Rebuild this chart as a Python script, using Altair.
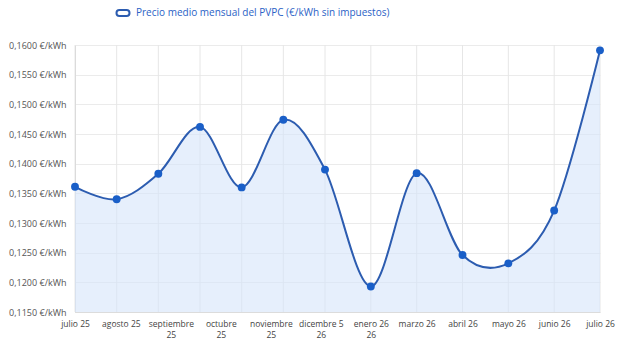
import json
import altair as alt
import pandas as pd

# Monthly average PVPC price, July 2025 - July 2026
meses = ["julio 25", "agosto 25", "septiembre 25", "octubre 25", "noviembre 25",
         "diciembre 25", "enero 26", "febrero 26", "marzo 26", "abril 26",
         "mayo 26", "junio 26", "julio 26"]
precio = [0.1361, 0.1340, 0.1383, 0.1462, 0.1360, 0.1474, 0.1390,
          0.1193, 0.1384, 0.1246, 0.1232, 0.1321, 0.1591]
serie = "Precio medio mensual del PVPC (€/kWh sin impuestos)"

# Axis labels as printed under the chart
etiquetas_x = ["julio 25", "agosto 25", "septiembre\n25", "octubre\n25",
               "noviembre\n25", "dicembre 5\n26", "enero 26\n26", "marzo 26",
               "abril 26", "mayo 26", "junio 26", "julio 26"]
ticks_y = [0.115, 0.120, 0.125, 0.130, 0.135, 0.140, 0.145, 0.150, 0.155, 0.160]

df = pd.DataFrame({
    "idx": list(range(len(meses))),
    "mes": meses,
    "precio": precio,
    "serie": [serie] * len(meses),
})

FONT = "Open Sans"
W, H = 525, 267

pos_x = [0, 1.1, 2.3, 3.5, 4.7, 5.9, 7, 8, 9, 10, 11, 12]
x_label_expr = "split({labs}[indexof({vals}, datum.value)], '|')".format(
    labs=json.dumps([e.replace("\n", "|") for e in etiquetas_x], ensure_ascii=False),
    vals=json.dumps(pos_x),
)

x_enc = alt.X(
    "idx:Q",
    scale=alt.Scale(domain=[0, 6, 12], range=[0, 250, W], nice=False, zero=False),
    axis=alt.Axis(
        values=pos_x, tickCount=30, labelExpr=x_label_expr, grid=False, ticks=False,
        domainColor="#dcdcdc", labelFont=FONT, labelFontSize=8.5,
        labelColor="#444444", labelPadding=7, labelLineHeight=11,
        labelBaseline="top", labelFlush=False, labelOverlap=False, title=None,
    ),
)
y_enc = alt.Y(
    "precio:Q",
    scale=alt.Scale(domain=[0.115, 0.160], nice=False, zero=False),
    axis=alt.Axis(
        values=ticks_y, tickCount=30,
        labelExpr="replace(format(datum.value, '.4f'), '.', ',') + ' €/kWh'",
        grid=True, gridColor="#ebebeb", ticks=False, domainColor="#d0d0d0",
        labelFont=FONT, labelFontSize=9, labelColor="#555555",
        labelPadding=9, labelOverlap=False, labelFlush=False, title=None,
    ),
)

base = alt.Chart(df)

grid_v = base.mark_rule(color="#e6e6e6", strokeWidth=1).encode(
    x=x_enc, y=alt.datum(0.160), y2=alt.datum(0.115)
)

area = base.mark_area(interpolate="cardinal", color="#d5e5fa", opacity=0.6).encode(
    x=x_enc, y=y_enc, y2=alt.datum(0.115)
)

pill = ("M -0.55,-0.45 L 0.55,-0.45 A 0.45,0.45 0 0 1 0.55,0.45 "
        "L -0.55,0.45 A 0.45,0.45 0 0 1 -0.55,-0.45 Z")

line = base.mark_line(interpolate="cardinal", strokeWidth=2).encode(
    x=x_enc, y=y_enc,
    color=alt.Color(
        "serie:N",
        scale=alt.Scale(range=["#2c5cb0"]),
        legend=alt.Legend(
            title=None, orient="none", legendX=40, legendY=-40,
            symbolType=pill, symbolSize=170, symbolFillColor="white",
            symbolStrokeColor="#2a62c6", symbolStrokeWidth=2,
            labelFont=FONT, labelFontSize=10, labelColor="#2a62c6",
            labelLimit=0, labelOffset=5, padding=0,
        ),
    ),
)

points = base.mark_circle(size=62, color="#1a5fc8", opacity=1).encode(
    x=x_enc, y=y_enc
)

chart = (
    alt.layer(grid_v, area, line, points)
    .properties(
        width=W, height=H,
        autosize=alt.AutoSizeParams(type="none"),
        padding={"left": 75, "top": 45, "right": 20, "bottom": 41},
        background="white",
    )
    .configure_view(stroke=None)
)

chart.save("out.html", embed_options={"renderer": "svg", "actions": False})
